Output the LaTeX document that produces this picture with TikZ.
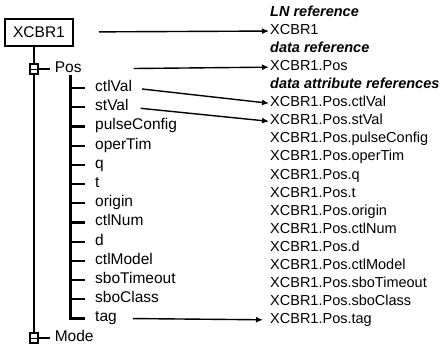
\documentclass[tikz,border=0pt]{standalone}
\usepackage{fontspec}
\setmainfont{Liberation Sans}
\usepackage{tikz}
\usetikzlibrary{positioning, arrows.meta}
\tikzstyle{tree} = [x = 1pt, y = -1pt]
\tikzstyle{treeText} = [font=\fontsize{15.5}{18}\selectfont, anchor=west, inner sep=1pt, text height=.716em, text depth=0pt]
\tikzstyle{refText} = [font=\fontsize{14.5}{18}\selectfont, anchor=west, inner sep=1pt, text height=.716em, text depth=0pt]
\tikzstyle{refHead} = [refText, font=\fontsize{14.5}{18}\selectfont\bfseries\itshape]
\tikzstyle{lnBox} = [draw, line width=2pt, minimum width=68pt, minimum height=27pt, inner sep=0pt, font=\fontsize{15.5}{18}\selectfont]
\tikzstyle{treeLine} = [line width=2.2pt]
\tikzstyle{expander} = [draw, fill=white, line width=1.4pt, minimum width=8pt, minimum height=10pt, inner sep=0pt]
\tikzstyle{refArrow} = [line width=1.4pt, -{Latex[length=7pt, width=6pt]}]
\newcommand{\stemX}{70.5}
\newcommand{\leafX}{94}
\newcommand{\refX}{269}
\newcommand{\leafRow}[1]{88 + 19.2 * #1}
\newcommand{\refRow}[1]{13 + 18.05 * #1}
\newcommand{\expanderNode}[3]{
  \node [expander] (#1) at (34, #2) {};
  \draw [line width=1pt] (#1.west) -- (#1.east);
  \draw [treeLine] (#1.east) -- + (11, 0) node [treeText, anchor=west, xshift=3pt] (#1Text) {#3};
}
\newcommand{\refEntry}[3]{\node [refText] (#1) at (\refX, {\refRow{#2}}) {#3};}
\newcommand{\refHeader}[3]{\node [refHead] (#1) at (\refX, {\refRow{#2}}) {#3};}

\begin{document}
\begin{tikzpicture}[tree]
  \useasboundingbox (0, 0) rectangle (441, 346);
  \node [lnBox] (ln) at (39, 32) {XCBR1};
  \expanderNode{pos}{69}{Pos}
  \expanderNode{mode}{338}{Mode}
  \draw [treeLine] (pos.north |- ln.south) -- (pos.north);
  \draw [treeLine] (pos.south) -- (mode.north);

  % attributes of Pos
  \foreach \name [count = \i from 0] in {ctlVal, stVal, pulseConfig, operTim, q, t, origin, ctlNum, d, ctlModel, sboTimeout, sboClass, tag} {
    \pgfmathsetmacro{\var}{\leafRow{\i}}
    \node [treeText] (leaf\i) at (\leafX, \var) {\name};
    \draw [treeLine] (\stemX, \var) -- ([xshift=-9pt]leaf\i.west);
    \pgfmathsetmacro{\row}{\i + 5}
    \refEntry{ref\i}{\row}{XCBR1.Pos.\name}
  }
  \coordinate (stem) at (\stemX, 75);
  \draw [treeLine] (stem) |- ([xshift=-9pt]leaf12.west);

  \refHeader{lnHead}{0}{LN reference}
  \refEntry{lnRef}{1}{XCBR1}
  \refHeader{doHead}{2}{data reference}
  \refEntry{doRef}{3}{XCBR1.Pos}
  \refHeader{daHead}{4}{data attribute references}

  \draw [refArrow, shorten <= 25pt] (ln.east) -- (lnRef.west);
  \draw [refArrow, shorten <= 50pt] (posText.east) -- (doRef.west);
  \draw [refArrow, shorten <= 9pt] (leaf0.east) -- (ref0.west);
  \draw [refArrow, shorten <= 11pt] (leaf1.east) -- (ref1.west);
  \draw [refArrow, shorten <= 15pt, shorten >= 6pt] (leaf12.east) -- (ref12.west);
\end{tikzpicture}
\end{document}
